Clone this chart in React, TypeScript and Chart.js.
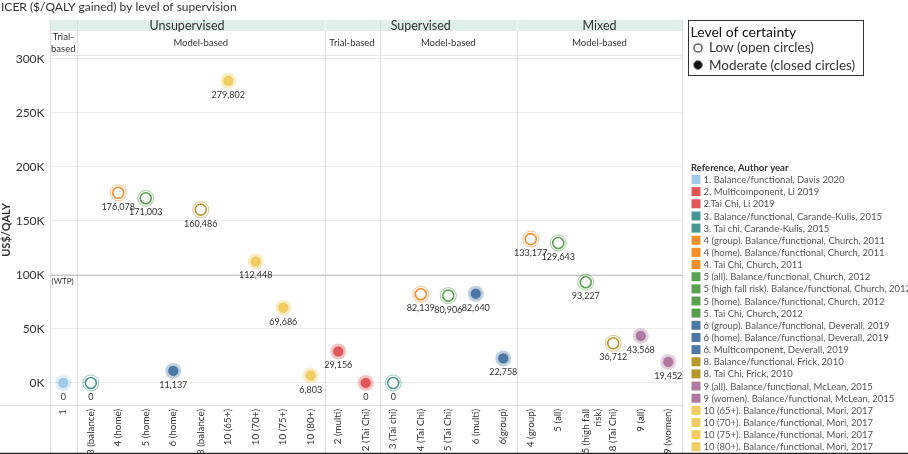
import React, { useEffect, useRef } from "react";
import { Chart, registerables } from "chart.js";

Chart.register(...registerables);

// ---------- data ----------
const categories: (string | string[])[] = [
  "1", "3 (balance)", "4 (home)", "5 (home)", "6 (home)", "8 (balance)",
  "10 (65+)", "10 (70+)", "10 (75+)", "10 (80+)",
  "2 (multi)", "2 (Tai Chi)",
  "3 (Tai chi)", "4 (Tai Chi)", "5 (Tai Chi)", "6 (multi)", "6(group)",
  "4 (group)", "5 (all)", ["5 (high fall", "risk)"], "8 (Tai Chi)", "9 (all)", "9 (women)",
];
const icerValues = [
  0, 0, 176078, 171003, 11137, 160486, 279802, 112448, 69686, 6803,
  29156, 0,
  0, 82139, 80906, 82640, 22758,
  133177, 129643, 93227, 36712, 43568, 19452,
];
const studyNumber = [
  1, 3, 4, 5, 6, 8, 10, 10, 10, 10,
  2, 2,
  3, 4, 5, 6, 6,
  4, 5, 5, 8, 9, 9,
];
const certainty = [
  "moderate", "low", "low", "low", "moderate", "low", "moderate", "moderate", "moderate", "moderate",
  "moderate", "moderate",
  "low", "low", "low", "moderate", "moderate",
  "low", "low", "low", "low", "moderate", "moderate",
];
const studyColors: Record<number, string> = {
  1: "#a0cbe8", 2: "#e15759", 3: "#499894", 4: "#f28e2b", 5: "#59a14f",
  6: "#4e79a7", 8: "#b6992d", 9: "#b07aa1", 10: "#f1ce63",
};
const yTicks = [0, 50000, 100000, 150000, 200000, 250000, 300000];
const wtpValue = 100000;

const headerRow1 = [
  { label: "Unsupervised", from: 0, to: 10 },
  { label: "Supervised", from: 10, to: 17 },
  { label: "Mixed", from: 17, to: 23 },
];
const headerRow2 = [
  { label: ["Trial-", "based"], from: 0, to: 1 },
  { label: ["Model-based"], from: 1, to: 10 },
  { label: ["Trial-based"], from: 10, to: 12 },
  { label: ["Model-based"], from: 12, to: 17 },
  { label: ["Model-based"], from: 17, to: 23 },
];

const referenceLegend: [number, string][] = [
  [1, "1. Balance/functional, Davis 2020"],
  [2, "2. Multicomponent, Li 2019"],
  [2, "2.Tai Chi, Li 2019"],
  [3, "3. Balance/functional, Carande-Kulis, 2015"],
  [3, "3. Tai chi, Carande-Kulis, 2015"],
  [4, "4 (group). Balance/functional, Church, 2011"],
  [4, "4 (home). Balance/functional, Church, 2011"],
  [4, "4. Tai Chi, Church, 2011"],
  [5, "5 (all). Balance/functional, Church, 2012"],
  [5, "5 (high fall risk). Balance/functional, Church, 2012"],
  [5, "5 (home). Balance/functional, Church, 2012"],
  [5, "5. Tai Chi, Church, 2012"],
  [6, "6 (group). Balance/functional, Deverall, 2019"],
  [6, "6 (home). Balance/functional, Deverall, 2019"],
  [6, "6. Multicomponent, Deverall, 2019"],
  [8, "8. Balance/functional, Frick, 2010"],
  [8, "8. Tai Chi, Frick, 2010"],
  [9, "9 (all). Balance/functional, McLean, 2015"],
  [9, "9 (women). Balance/functional, McLean, 2015"],
  [10, "10 (65+). Balance/functional, Mori, 2017"],
  [10, "10 (70+). Balance/functional, Mori, 2017"],
  [10, "10 (75+). Balance/functional, Mori, 2017"],
  [10, "10 (80+). Balance/functional, Mori, 2017"],
];

const FONT = "Lato, 'Open Sans', sans-serif";

function hexA(hex: string, a: number) {
  const n = parseInt(hex.slice(1), 16);
  return `rgba(${(n >> 16) & 255},${(n >> 8) & 255},${n & 255},${a})`;
}

const pointColors = studyNumber.map((s) => studyColors[s]);

const decorPlugin = {
  id: "decor",
  beforeDraw(chart: any) {
    const ctx = chart.ctx;
    ctx.save();
    ctx.fillStyle = "#ffffff";
    ctx.fillRect(0, 0, chart.width, chart.height);
    ctx.restore();
  },
  beforeDatasetsDraw(chart: any) {
    const ctx = chart.ctx;
    const xs = chart.scales.x;
    const ys = chart.scales.y;
    const area = chart.chartArea;
    const half = (xs.getPixelForValue(1) - xs.getPixelForValue(0)) / 2;
    const edge = (i: number) => xs.getPixelForValue(i) - half;
    ctx.save();
    // header band
    const bandTop = 20, bandBot = 31, hdrBot = area.top;
    ctx.fillStyle = "#e0efea";
    ctx.fillRect(edge(0), bandTop, edge(23) - edge(0), bandBot - bandTop);
    ctx.fillStyle = "#333";
    ctx.textAlign = "center";
    ctx.textBaseline = "middle";
    ctx.font = `12.5px ${FONT}`;
    headerRow1.forEach((h) => {
      ctx.fillText(h.label, (edge(h.from) + edge(h.to)) / 2, (bandTop + bandBot) / 2 + 0.5);
    });
    ctx.font = `9.5px ${FONT}`;
    headerRow2.forEach((h) => {
      const cx = (edge(h.from) + edge(h.to)) / 2;
      const n = h.label.length;
      h.label.forEach((t, k) => {
        const cy = (bandBot + hdrBot) / 2 + (k - (n - 1) / 2) * 12.5;
        ctx.fillText(t, cx, cy);
      });
    });
    // header bottom border
    ctx.strokeStyle = "#e6e6e6";
    ctx.lineWidth = 1;
    ctx.beginPath();
    ctx.moveTo(edge(0), hdrBot + 0.5);
    ctx.lineTo(edge(23), hdrBot + 0.5);
    ctx.stroke();
    // plot bottom line
    ctx.strokeStyle = "#dcdcdc";
    ctx.beginPath();
    ctx.moveTo(0, area.bottom + 0.5);
    ctx.lineTo(edge(23), area.bottom + 0.5);
    ctx.stroke();
    // vertical separators
    const seps = new Set<number>();
    headerRow2.forEach((h) => { seps.add(h.from); seps.add(h.to); });
    ctx.strokeStyle = "#dedede";
    seps.forEach((i) => {
      const x = Math.round(edge(i)) + 0.5;
      ctx.beginPath();
      ctx.moveTo(x, bandTop);
      ctx.lineTo(x, chart.height);
      ctx.stroke();
    });
    ctx.strokeStyle = "#ffffff";
    headerRow1.forEach((h) => {
      const x = Math.round(edge(h.from)) + 0.5;
      if (h.from === 0) return;
      ctx.beginPath();
      ctx.moveTo(x, bandTop);
      ctx.lineTo(x, bandBot);
      ctx.stroke();
    });
    // WTP line
    const wy = Math.round(ys.getPixelForValue(wtpValue)) + 0.5;
    ctx.strokeStyle = "#c4c4c4";
    ctx.beginPath();
    ctx.moveTo(area.left, wy);
    ctx.lineTo(area.right, wy);
    ctx.stroke();
    ctx.fillStyle = "#333";
    ctx.font = `8px ${FONT}`;
    ctx.textAlign = "left";
    ctx.fillText("(WTP)", area.left + 2, wy + 6);
    ctx.restore();
  },
  afterDatasetsDraw(chart: any) {
    const ctx = chart.ctx;
    const meta = chart.getDatasetMeta(1);
    ctx.save();
    ctx.fillStyle = "#333";
    ctx.font = `9px ${FONT}`;
    ctx.textAlign = "center";
    ctx.textBaseline = "middle";
    meta.data.forEach((pt: any, i: number) => {
      ctx.fillText(icerValues[i].toLocaleString("en-US"), pt.x, pt.y + 14);
    });
    ctx.restore();
  },
  afterDraw(chart: any) {
    const ctx = chart.ctx;
    ctx.save();
    // title
    ctx.fillStyle = "#333";
    ctx.font = `12px ${FONT}`;
    ctx.textAlign = "left";
    ctx.textBaseline = "middle";
    ctx.fillText("ICER ($/QALY gained) by level of supervision", 1, 7);
    // certainty legend box
    ctx.strokeStyle = "#333";
    ctx.lineWidth = 1;
    ctx.strokeRect(688.5, 20.5, 175, 55);
    ctx.fillStyle = "#111";
    ctx.font = `14px ${FONT}`;
    ctx.fillText("Level of certainty", 690.5, 32);
    ctx.fillStyle = "#333";
    ctx.font = `13.5px ${FONT}`;
    ctx.fillText("Low (open circles)", 709, 48);
    ctx.fillText("Moderate (closed circles)", 709, 65.5);
    ctx.beginPath();
    ctx.arc(698, 48, 4, 0, Math.PI * 2);
    ctx.fillStyle = "#fff";
    ctx.fill();
    ctx.lineWidth = 1.6;
    ctx.strokeStyle = "#666";
    ctx.stroke();
    ctx.beginPath();
    ctx.arc(698, 65, 4.5, 0, Math.PI * 2);
    ctx.fillStyle = "#111";
    ctx.fill();
    ctx.lineWidth = 1;
    ctx.strokeStyle = "#999";
    ctx.stroke();
    // reference legend
    ctx.fillStyle = "#333";
    ctx.font = `bold 9.5px ${FONT}`;
    ctx.fillText("Reference, Author year", 691, 168);
    ctx.font = `9.5px ${FONT}`;
    referenceLegend.forEach(([s, t], i) => {
      const y = 179.5 + i * 12.15;
      ctx.fillStyle = studyColors[s];
      ctx.fillRect(691.5, y - 4.5, 9, 9);
      ctx.fillStyle = "#555";
      ctx.fillText(t, 703.5, y + 0.5);
    });
    // frame lines
    ctx.strokeStyle = "#222";
    ctx.lineWidth = 1.5;
    ctx.beginPath();
    ctx.moveTo(0, 453.5);
    ctx.lineTo(908, 453.5);
    ctx.stroke();
    ctx.restore();
  },
};

export default function App() {
  const ref = useRef<HTMLCanvasElement | null>(null);
  useEffect(() => {
    if (!ref.current) return;
    const chart = new Chart(ref.current, {
      type: "line",
      data: {
        labels: categories as any,
        datasets: [
          {
            label: "halo",
            data: icerValues,
            showLine: false,
            pointRadius: 8,
            pointHoverRadius: 8,
            pointBackgroundColor: pointColors.map((c, i) => (certainty[i] === "moderate" ? hexA(c, 0.35) : "rgba(255,255,255,0)")),
            pointBorderColor: pointColors.map((c) => hexA(c, 0.55)),
            pointBorderWidth: certainty.map((c) => (c === "moderate" ? 0 : 1)),
          },
          {
            label: "ICER",
            data: icerValues,
            showLine: false,
            pointRadius: 5.5,
            pointHoverRadius: 5.5,
            pointBackgroundColor: pointColors.map((c, i) => (certainty[i] === "moderate" ? c : "#ffffff")),
            pointBorderColor: pointColors.map((c, i) => (certainty[i] === "moderate" ? "rgba(255,255,255,0.7)" : c)),
            pointBorderWidth: certainty.map((c) => (c === "moderate" ? 1 : 1.6)),
          },
        ],
      },
      options: {
        animation: false,
        responsive: true,
        maintainAspectRatio: false,
        layout: { padding: { top: 55, right: 226, left: 0, bottom: 0 } },
        plugins: { legend: { display: false }, tooltip: { enabled: false } },
        scales: {
          x: {
            type: "category",
            offset: true,
            grid: { display: false, drawTicks: false, tickLength: 0 },
            border: { display: false },
            ticks: {
              autoSkip: false,
              minRotation: 90,
              maxRotation: 90,
              padding: 4,
              color: "#333",
              font: { family: FONT, size: 9.8 },
            },
            afterFit: (s: any) => { s.height = 49; },
          },
          y: {
            min: -20400,
            max: 303700,
            grid: { color: "#ebebeb", drawTicks: false },
            border: { display: false },
            afterBuildTicks: (s: any) => { s.ticks = yTicks.map((v) => ({ value: v })); },
            ticks: {
              padding: 5,
              color: "#333",
              font: { family: FONT, size: 12 },
              callback: (v: any) => `${Number(v) / 1000}K`,
            },
            title: {
              display: true,
              text: "US$/QALY",
              color: "#333",
              font: { family: FONT, size: 11, weight: "bold" },
              padding: { top: 0, bottom: 0 },
            },
            afterFit: (s: any) => { s.width = 49.5; },
          },
        },
      },
      plugins: [decorPlugin],
    });
    return () => chart.destroy();
  }, []);
  return (
    <div style={{ position: "absolute", left: 0, top: 0, width: 908, height: 454, background: "#fff" }}>
      <canvas ref={ref} />
    </div>
  );
}
